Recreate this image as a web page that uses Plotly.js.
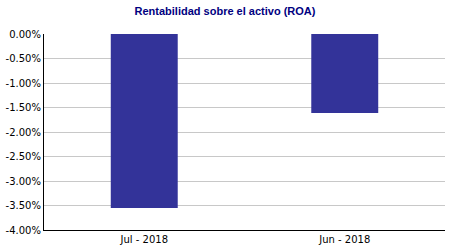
<!DOCTYPE html>
<html><head><meta charset="utf-8">
<script src="https://cdn.plot.ly/plotly-3.0.1.min.js"></script>
<style>html,body{margin:0;padding:0;background:#fff}#c{width:450px;height:250px}</style>
</head><body><div id="c"></div>
<script>
var categories = ["Jul - 2018", "Jun - 2018"];
var roaValues = [-3.55, -1.61];
var tickValues = [0, -0.5, -1, -1.5, -2, -2.5, -3, -3.5, -4];
var tickLabels = ["0.00%", "-0.50%", "-1.00%", "-1.50%", "-2.00%", "-2.50%", "-3.00%", "-3.50%", "-4.00%"];

Plotly.newPlot("c", [{
  type: "bar", x: categories, y: roaValues,
  marker: {color: "#333399"}, hoverinfo: "none"
}], {
  width: 450, height: 250,
  margin: {l: 44, r: 5, t: 34, b: 20},
  paper_bgcolor: "#fff", plot_bgcolor: "#fff",
  bargap: 0.666,
  showlegend: false,
  title: {text: "Rentabilidad sobre el activo (ROA)", x: 0.5, xanchor: "center", y: 0.955, yanchor: "middle",
    font: {family: "Liberation Sans, Arial", size: 11, color: "#000080", weight: "bold"}},
  xaxis: {showline: true, linecolor: "#000", linewidth: 1, showgrid: false, zeroline: false,
    ticks: "", tickfont: {family: "DejaVu Sans, Verdana", size: 10, color: "#000"}, fixedrange: true},
  yaxis: {range: [-4, 0], tickvals: tickValues, ticktext: tickLabels, showline: true, linecolor: "#000", linewidth: 1,
    gridcolor: "#c8c8c8", zeroline: false, ticks: "", ticklen: 0,
    tickfont: {family: "DejaVu Sans, Verdana", size: 10, color: "#000"}, fixedrange: true}
}, {displayModeBar: false, staticPlot: true});
</script></body></html>
